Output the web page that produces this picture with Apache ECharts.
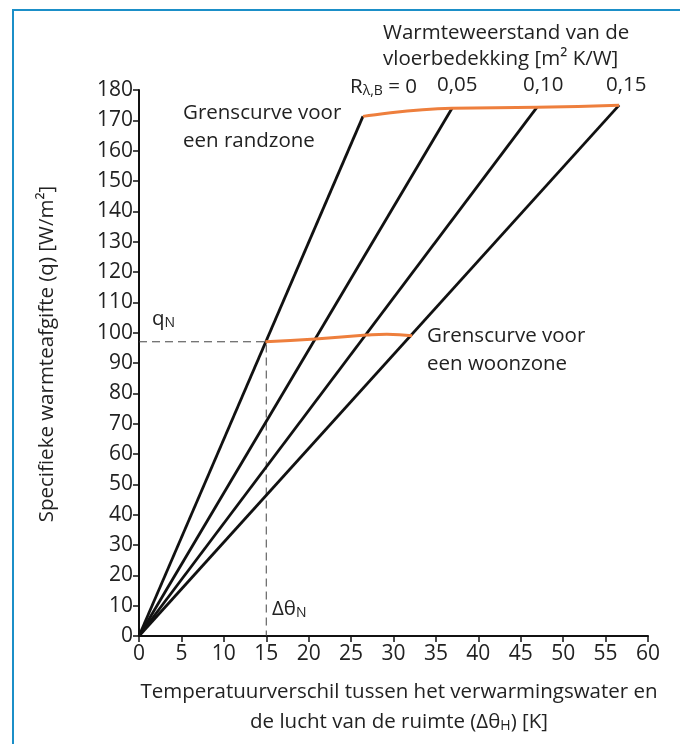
<!DOCTYPE html>
<html>
<head>
<meta charset="utf-8">
<script src="https://cdn.jsdelivr.net/npm/echarts@6/dist/echarts.min.js"></script>
<style>
  html, body { margin: 0; padding: 0; background: #fff; }
  #chart { width: 680px; height: 744px; }
</style>
</head>
<body>
<div id="chart"></div>
<script>
// weerstand van de vloerbedekking, per lijn
const rLabels = ['0', '0,05', '0,10', '0,15']
// eindpunt van elke lijn op de grenscurve voor de randzone
const topX = [26.4, 36.9, 46.9, 56.6]
const topY = [171.3, 174.0, 174.3, 175.0]
// grenscurve voor een woonzone
const woonX = [14.9, 20.8, 26.8, 29.2, 32.2]
const woonY = [97.0, 97.9, 99.2, 99.5, 99.0]
// ontwerppunt
const qN = 97
const dThetaN = 15

const FONT = '"Open Sans", sans-serif'
const TEXT = '#222'
const ORANGE = '#ee7f3d'
const BLUE = '#1b8fc8'
const F = '20.5px ' + FONT

const chart = echarts.init(document.getElementById('chart'))

// graphic-tekst gebruikt fill, niet color
const main = { fontSize: 20.5, fontFamily: FONT, fill: TEXT, lineHeight: 26, verticalAlign: 'bottom' }
const sub = { fontSize: 14, fontFamily: FONT, fill: TEXT, lineHeight: 15, verticalAlign: 'bottom' }

const lineSeries = rLabels.map((r, i) => ({
    name: 'R = ' + r,
    type: 'line',
    symbol: 'none',
    silent: true,
    lineStyle: { color: '#111', width: 2.8 },
    data: [[0, 0], [topX[i], topY[i]]],
    z: 3
}))

chart.setOption({
    animation: false,
    grid: { left: 139, right: 32, top: 90, bottom: 108 },
    xAxis: {
        type: 'value',
        min: 0,
        max: 60,
        interval: 5,
        splitLine: { show: false },
        axisLine: { lineStyle: { color: '#111', width: 2 } },
        axisTick: { length: 6, lineStyle: { color: '#111', width: 1.5 } },
        axisLabel: { color: TEXT, fontSize: 21, fontFamily: FONT, margin: 8 }
    },
    yAxis: {
        type: 'value',
        min: 0,
        max: 180,
        interval: 10,
        splitLine: { show: false },
        axisLine: { show: true, lineStyle: { color: '#111', width: 2 } },
        axisTick: { show: true, length: 6, lineStyle: { color: '#111', width: 1.5 } },
        axisLabel: { color: TEXT, fontSize: 21, fontFamily: FONT, margin: 6 }
    },
    series: [
        {
            name: 'hulplijn',
            type: 'line',
            symbol: 'none',
            silent: true,
            lineStyle: { color: '#444', width: 1, type: [8, 5] },
            data: [[0, qN], [dThetaN, qN], [dThetaN, 0]],
            z: 2
        },
        ...lineSeries,
        {
            name: 'randzone',
            type: 'line',
            symbol: 'none',
            smooth: true,
            silent: true,
            lineStyle: { color: ORANGE, width: 3 },
            data: topX.map((x, i) => [x, topY[i]]),
            z: 4
        },
        {
            name: 'woonzone',
            type: 'line',
            symbol: 'none',
            smooth: true,
            silent: true,
            lineStyle: { color: ORANGE, width: 3 },
            data: woonX.map((x, i) => [x, woonY[i]]),
            z: 4
        }
    ],
    graphic: [
        // blauwe kader
        {
            type: 'polyline',
            shape: { points: [[13, 744], [13, 10], [680, 10]] },
            style: { stroke: BLUE, lineWidth: 2, fill: null }
        },
        {
            type: 'text', x: 383, y: 20,
            style: { text: 'Warmteweerstand van de\nvloerbedekking [m² K/W]', font: F, fill: TEXT, lineHeight: 26 }
        },
        {
            type: 'text', x: 350, y: 72,
            style: {
                text: '{m|R}{s|λ,B}{m| = 0}',
                fill: TEXT,
                rich: { m: main, s: sub }
            }
        },
        { type: 'text', x: 437, y: 75, style: { text: '0,05', font: F, fill: TEXT } },
        { type: 'text', x: 523, y: 75, style: { text: '0,10', font: F, fill: TEXT } },
        { type: 'text', x: 606, y: 75, style: { text: '0,15', font: F, fill: TEXT } },
        {
            type: 'text', x: 183, y: 99,
            style: { text: 'Grenscurve voor\neen randzone', font: F, fill: TEXT, lineHeight: 28 }
        },
        {
            type: 'text', x: 427, y: 322,
            style: { text: 'Grenscurve voor\neen woonzone', font: F, fill: TEXT, lineHeight: 28 }
        },
        {
            type: 'text', x: 152, y: 304,
            style: { text: '{m|q}{s|N}', fill: TEXT, rich: { m: main, s: sub } }
        },
        {
            type: 'text', x: 272, y: 594,
            style: { text: '{m|Δθ}{s|N}', fill: TEXT, rich: { m: main, s: sub } }
        },
        {
            type: 'text', x: 47, y: 354, rotation: Math.PI / 2,
            style: { text: 'Specifieke warmteafgifte (q) [W/m²]', font: F, fill: TEXT, align: 'center', verticalAlign: 'middle' }
        },
        {
            type: 'text', x: 399, y: 682,
            style: { text: 'Temperatuurverschil tussen het verwarmingswater en', font: F, fill: TEXT, align: 'center' }
        },
        {
            type: 'text', x: 399, y: 707,
            style: {
                text: '{m|de lucht van de ruimte (Δθ}{s|H}{m|) [K]}',
                align: 'center',
                fill: TEXT,
                rich: { m: main, s: sub }
            }
        }
    ]
})
</script>
</body>
</html>
